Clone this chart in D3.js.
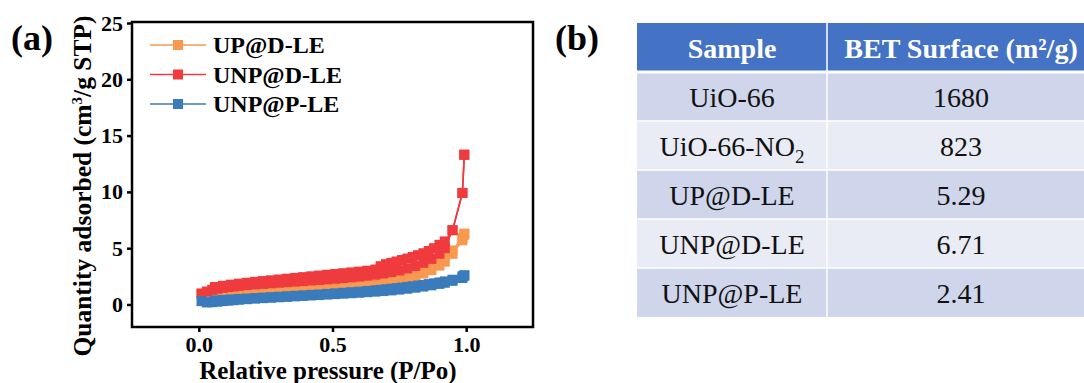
<!DOCTYPE html>
<html>
<head>
<meta charset="utf-8">
<script src="https://cdn.jsdelivr.net/npm/d3@7"></script>
<style>
  body { margin: 0; background: #fff; }
</style>
</head>
<body>
<svg id="fig" width="1084" height="383"></svg>
<script>
// relative pressures (shared by all samples)
var pAds = [0.01,0.03,0.05,0.07,0.09,0.11,0.13,0.15,0.18,0.21,0.24,0.27,0.30,0.33,0.36,0.39,0.42,0.45,0.48,0.51,0.54,0.57,0.60,0.63,0.66,0.69,0.72,0.75,0.78,0.81,0.84,0.87,0.90,0.92,0.949,0.986,0.993];
var pDes = [0.993,0.986,0.949,0.92,0.90,0.88,0.86,0.84,0.82,0.80,0.78,0.76,0.74,0.72,0.70,0.68,0.66,0.63,0.60,0.57,0.54,0.51,0.48,0.45,0.42,0.39,0.36,0.33,0.30,0.27,0.24,0.21,0.18,0.15,0.12,0.09,0.06];

// quantity adsorbed, cm3/g STP
var upAds  = [1.0,1.02,1.05,1.07,1.09,1.11,1.13,1.15,1.18,1.21,1.24,1.27,1.3,1.33,1.36,1.39,1.42,1.46,1.5,1.54,1.58,1.63,1.69,1.76,1.84,1.93,2.04,2.17,2.33,2.52,2.75,3.05,3.45,3.8,4.5,5.7,6.2];
var upDes  = [6.3,5.9,4.8,4.3,4.0,3.75,3.52,3.32,3.14,2.98,2.83,2.7,2.58,2.47,2.37,2.28,2.2,2.09,1.99,1.9,1.82,1.75,1.68,1.62,1.56,1.51,1.46,1.42,1.38,1.34,1.3,1.27,1.24,1.21,1.18,1.15,1.12];
var unpdAds = [0.95,1.15,1.3,1.4,1.48,1.55,1.6,1.65,1.72,1.78,1.83,1.88,1.93,1.98,2.03,2.08,2.13,2.18,2.23,2.29,2.35,2.41,2.48,2.56,2.65,2.75,2.88,3.02,3.2,3.42,3.7,4.05,4.5,5.0,6.6,9.9,13.3];
var unpdDes = [13.3,9.9,6.6,5.6,5.3,5.0,4.75,4.55,4.38,4.22,4.08,3.95,3.82,3.7,3.58,3.4,3.1,3.0,2.92,2.85,2.78,2.71,2.64,2.57,2.5,2.43,2.36,2.29,2.22,2.15,2.08,2.01,1.93,1.85,1.76,1.66,1.55];
var unppAds = [0.3,0.18,0.2,0.25,0.3,0.34,0.38,0.42,0.47,0.52,0.56,0.6,0.64,0.68,0.72,0.76,0.8,0.84,0.88,0.92,0.96,1.0,1.04,1.09,1.14,1.19,1.25,1.32,1.4,1.49,1.59,1.7,1.83,1.93,2.1,2.35,2.55];
var unppDes = [2.6,2.5,2.2,2.05,1.96,1.88,1.81,1.74,1.68,1.62,1.56,1.5,1.45,1.4,1.35,1.3,1.26,1.2,1.14,1.09,1.04,0.99,0.94,0.89,0.85,0.81,0.77,0.73,0.69,0.65,0.61,0.57,0.53,0.49,0.45,0.41,0.37];

var seriesNames = ["UP@D-LE", "UNP@D-LE", "UNP@P-LE"];
var seriesColors = ["#F8994F", "#EF3B3E", "#3A7BBB"];
var xTicks = [0, 0.5, 1.0];
var yTicks = [0, 5, 10, 15, 20, 25];

// table (b)
var tableHeader = ["Sample", "BET Surface (m\u00B2/g)"];
var samples = ["UiO-66", "UiO-66-NO2", "UP@D-LE", "UNP@D-LE", "UNP@P-LE"];
var betValues = ["1680", "823", "5.29", "6.71", "2.41"];

var FONT = "'Liberation Serif'";
var svg = d3.select("#fig").style("font-family", FONT);

//---------- panel (a) ----------
var x = d3.scaleLinear().domain([-0.25, 1.25]).range([132, 533]);
var y = d3.scaleLinear().domain([-2, 25]).range([327, 23]);

function pts(ps, vs) { return ps.map(function (p, i) { return [p, vs[i]]; }); }
var series = [
  { name: seriesNames[0], color: seriesColors[0], ads: pts(pAds, upAds),   des: pts(pDes, upDes) },
  { name: seriesNames[1], color: seriesColors[1], ads: pts(pAds, unpdAds), des: pts(pDes, unpdDes) },
  { name: seriesNames[2], color: seriesColors[2], ads: pts(pAds, unppAds), des: pts(pDes, unppDes) }
];

var line = d3.line().x(function (d) { return x(d[0]); }).y(function (d) { return y(d[1]); });
var ms = 10;

var plot = svg.append("g").attr("class", "plot");
series.forEach(function (s) {
  var g = plot.append("g");
  [s.ads, s.des].forEach(function (branch) {
    g.append("path").attr("d", line(branch))
      .attr("fill", "none").attr("stroke", s.color).attr("stroke-width", 1.6);
  });
  g.selectAll("rect").data(s.ads.concat(s.des)).enter().append("rect")
    .attr("x", function (d) { return x(d[0]) - ms / 2; })
    .attr("y", function (d) { return y(d[1]) - ms / 2; })
    .attr("width", ms).attr("height", ms)
    .attr("fill", s.color);
});

// frame
svg.append("rect").attr("x", 132).attr("y", 22).attr("width", 401).attr("height", 305)
  .attr("fill", "none").attr("stroke", "#000").attr("stroke-width", 2.5);

var xAxis = svg.append("g").attr("transform", "translate(0,327)")
  .call(d3.axisBottom(x).tickValues(xTicks).tickFormat(d3.format(".1f")).tickSize(5).tickPadding(4));
var yAxis = svg.append("g").attr("transform", "translate(132,0)")
  .call(d3.axisLeft(y).tickValues(yTicks).tickSize(5).tickPadding(4));
[xAxis, yAxis].forEach(function (a) {
  a.attr("font-family", null).attr("font-size", null);
  a.select(".domain").remove();
  a.selectAll(".tick line").attr("stroke", "#000").attr("stroke-width", 2.5);
  a.selectAll(".tick text").attr("fill", "#000")
    .style("font-family", FONT)
    .style("font-size", "22px").style("font-weight", "bold");
});

svg.append("text").attr("x", 328).attr("y", 379).attr("text-anchor", "middle")
  .style("font-family", FONT)
  .style("font-size", "25px").style("font-weight", "bold")
  .text("Relative pressure (P/Po)");

var yt = svg.append("text").attr("transform", "translate(91,186) rotate(-90)")
  .attr("text-anchor", "middle").style("font-family", FONT)
  .style("font-size", "25.5px").style("font-weight", "bold");
yt.append("tspan").text("Quantity adsorbed (cm");
yt.append("tspan").attr("dy", -9).style("font-size", "15px").text("3");
yt.append("tspan").attr("dy", 9).text("/g STP)");

svg.append("text").attr("x", 11).attr("y", 50).style("font-family", FONT)
  .style("font-size", "36px").style("font-weight", "bold").text("(a)");

// legend
var leg = svg.append("g").selectAll("g").data(series).enter().append("g")
  .attr("transform", function (d, i) { return "translate(150," + (45 + i * 29.5) + ")"; });
leg.append("line").attr("x1", 0).attr("x2", 56).attr("y1", 0).attr("y2", 0)
  .attr("stroke", function (d) { return d.color; }).attr("stroke-width", 1.6);
leg.append("rect").attr("x", 23).attr("y", -5).attr("width", 10).attr("height", 10)
  .attr("fill", function (d) { return d.color; });
leg.append("text").attr("x", 63).attr("y", 8).style("font-family", FONT)
  .style("font-size", "24px").style("font-weight", "bold")
  .text(function (d) { return d.name; });

//---------- panel (b) ----------
svg.append("text").attr("x", 555).attr("y", 50).style("font-family", FONT)
  .style("font-size", "36px").style("font-weight", "bold").text("(b)");

var tLeft = 637, tSplit = 827, tRight = 1095, tTop = 23, headH = 49, rowH = 49;
var colX = [(tLeft + tSplit) / 2, (tSplit + tRight) / 2];

var tb = svg.append("g");
tb.append("rect").attr("x", tLeft).attr("y", tTop).attr("width", tRight - tLeft).attr("height", headH)
  .attr("fill", "#4472C4");
tb.selectAll(".hd").data(tableHeader).enter().append("text")
  .attr("x", function (d, i) { return colX[i]; }).attr("y", tTop + headH / 2 + 10)
  .attr("text-anchor", "middle").attr("fill", "#fff").style("font-family", FONT)
  .style("font-size", "28px").style("font-weight", "bold")
  .text(function (d) { return d; });

var rows = tb.selectAll(".row").data(samples).enter().append("g")
  .attr("transform", function (d, i) { return "translate(0," + (tTop + headH + i * rowH) + ")"; });
rows.append("rect").attr("x", tLeft).attr("y", 0).attr("width", tRight - tLeft).attr("height", rowH)
  .attr("fill", function (d, i) { return i % 2 === 0 ? "#CFD5EA" : "#E9EBF5"; });
rows.append("text").attr("x", colX[0]).attr("y", rowH / 2 + 10).attr("text-anchor", "middle")
  .attr("fill", "#111").style("font-family", FONT).style("font-size", "28px")
  .each(function (d) {
    var t = d3.select(this);
    var m = d.match(/^(.*NO)2$/);
    if (m) {
      t.append("tspan").text(m[1]);
      t.append("tspan").attr("dy", 7).style("font-size", "19px").text("2");
    } else {
      t.text(d);
    }
  });
rows.append("text").attr("x", colX[1]).attr("y", rowH / 2 + 10).attr("text-anchor", "middle")
  .attr("fill", "#111").style("font-family", FONT).style("font-size", "28px")
  .text(function (d, i) { return betValues[i]; });

// white grid lines
tb.append("line").attr("x1", tSplit).attr("x2", tSplit).attr("y1", tTop).attr("y2", tTop + headH + rowH * samples.length)
  .attr("stroke", "#fff").attr("stroke-width", 1.5);
tb.selectAll(".hl").data(d3.range(samples.length)).enter().append("line")
  .attr("x1", tLeft).attr("x2", tRight)
  .attr("y1", function (d) { return tTop + headH + d * rowH; })
  .attr("y2", function (d) { return tTop + headH + d * rowH; })
  .attr("stroke", "#fff").attr("stroke-width", function (d) { return d === 0 ? 3 : 1.5; });
</script>
</body>
</html>
